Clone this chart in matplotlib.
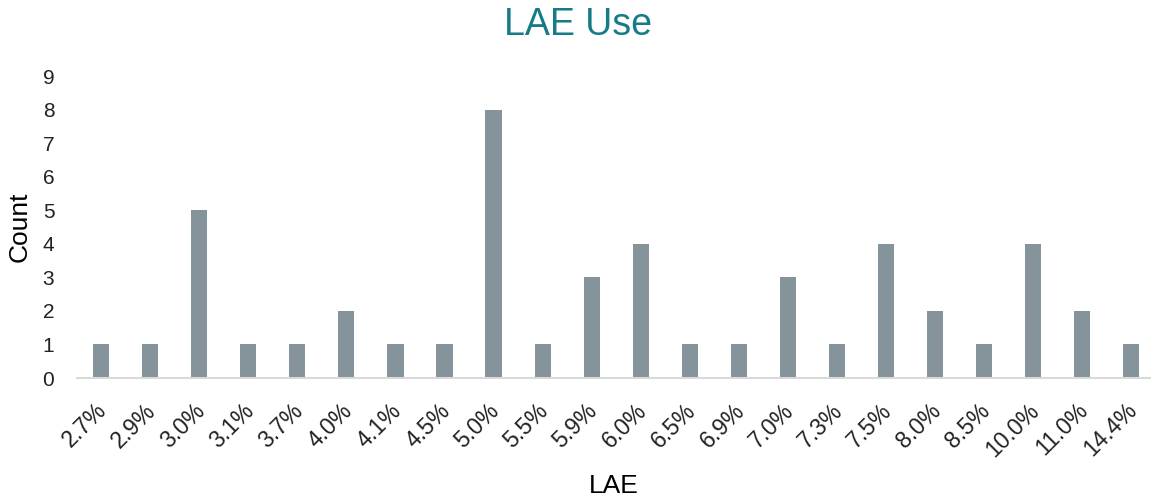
import numpy as np
import matplotlib.pyplot as plt
import matplotlib.transforms as mtransforms

plt.rcParams['font.family'] = ['Liberation Sans', 'DejaVu Sans']

lae_labels = ['2.7%', '2.9%', '3.0%', '3.1%', '3.7%', '4.0%', '4.1%', '4.5%',
              '5.0%', '5.5%', '5.9%', '6.0%', '6.5%', '6.9%', '7.0%', '7.3%',
              '7.5%', '8.0%', '8.5%', '10.0%', '11.0%', '14.4%']
counts = [1, 1, 5, 1, 1, 2, 1, 1, 8, 1, 3, 4, 1, 1, 3, 1, 4, 2, 1, 4, 2, 1]

fig = plt.figure(figsize=(11.51, 4.97), dpi=100)
ax = fig.add_axes([0.0665, 0.2394, 0.9335, 0.6076])

x = np.arange(len(lae_labels))
ax.bar(x, counts, width=0.33, color='#84949A')

ax.set_xlim(-0.5, 21.4)
ax.set_ylim(0, 9)
ax.set_yticks(range(0, 10))
ax.set_xticks(x)
ax.set_xticklabels(lae_labels, rotation=45, ha='right', rotation_mode='anchor')

ax.tick_params(axis='both', length=0, colors='#222222')
ax.tick_params(axis='y', pad=16, labelsize=15)
ax.tick_params(axis='x', pad=15, labelsize=16.5)

# nudge the slanted labels a little to the left
shift = mtransforms.ScaledTranslation(-0.06, 0, fig.dpi_scale_trans)
for lbl in ax.get_xticklabels():
    lbl.set_transform(lbl.get_transform() + shift)

for s in ['top', 'right', 'left']:
    ax.spines[s].set_visible(False)
ax.spines['bottom'].set_color('#D9D9D9')
ax.spines['bottom'].set_linewidth(1.5)

ax.set_ylabel('Count', fontsize=19, labelpad=8)
fig.text(0.0665 + 0.9335 / 2, 0.008, 'LAE', fontsize=19, ha='center', va='baseline')
fig.text(0.502, 0.93, 'LAE Use', fontsize=27, ha='center', va='baseline', color='#157C87')

fig.savefig('out.png', dpi=100)
